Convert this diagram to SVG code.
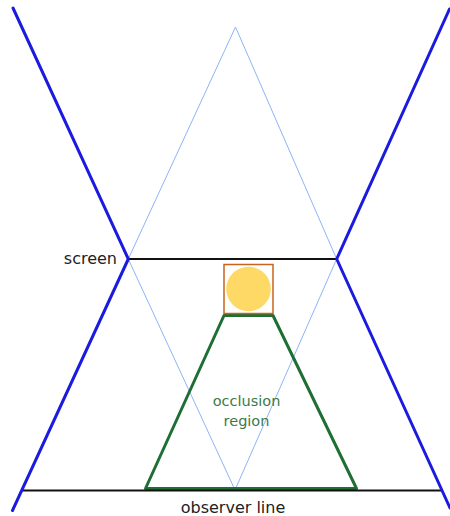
<svg xmlns="http://www.w3.org/2000/svg" width="450" height="516" viewBox="0 0 450 516">
  <style>
    .bound { stroke: #1b1be0; stroke-width: 3; fill: none; stroke-linecap: round; stroke-linejoin: round; }
    .ray { stroke: #8fb4f5; stroke-width: 1; fill: none; }
    .rule { stroke: #111; stroke-width: 2; fill: none; }
    .label { font-family: "DejaVu Sans", Verdana, sans-serif; font-size: 16px; fill: #222; }
    .occl { font-family: "DejaVu Sans", Verdana, sans-serif; font-size: 14.5px; fill: #3c7a4c; text-anchor: middle; }
  </style>
  <rect width="450" height="516" fill="#fff"/>

  <!-- field-of-view rays -->
  <g id="rays">
    <polyline class="ray" points="128.3,259 235.5,27 336.7,259"/>
    <polyline class="ray" points="128.3,259 235,490 336.7,259"/>
  </g>

  <!-- occlusion region -->
  <g id="occlusion">
    <polygon points="224,315.5 273,315.5 356.5,488.5 145.5,488.5" fill="none" stroke="#1f6e34" stroke-width="3" stroke-linejoin="round"/>
    <text class="occl" x="246.5" y="406">occlusion</text>
    <text class="occl" x="246.5" y="426">region</text>
  </g>

  <!-- object -->
  <g id="object">
    <circle cx="248.5" cy="289" r="22.3" fill="#ffd966"/>
    <rect x="224" y="264.5" width="49" height="49" fill="none" stroke="#c8641e" stroke-width="1.5"/>
  </g>

  <!-- screen -->
  <g id="screen">
    <line class="rule" x1="128.3" y1="259" x2="336.7" y2="259"/>
    <text class="label" x="117" y="264" text-anchor="end">screen</text>
  </g>

  <!-- observer line -->
  <g id="observer">
    <line class="rule" x1="22" y1="490.5" x2="443" y2="490.5"/>
    <text class="label" x="233" y="513" text-anchor="middle">observer line</text>
  </g>

  <!-- boundary lines -->
  <g id="bounds">
    <polyline class="bound" points="13,8 128.3,259 12.5,510.5"/>
    <polyline class="bound" points="449.5,9 336.7,259 450,508"/>
  </g>
</svg>
